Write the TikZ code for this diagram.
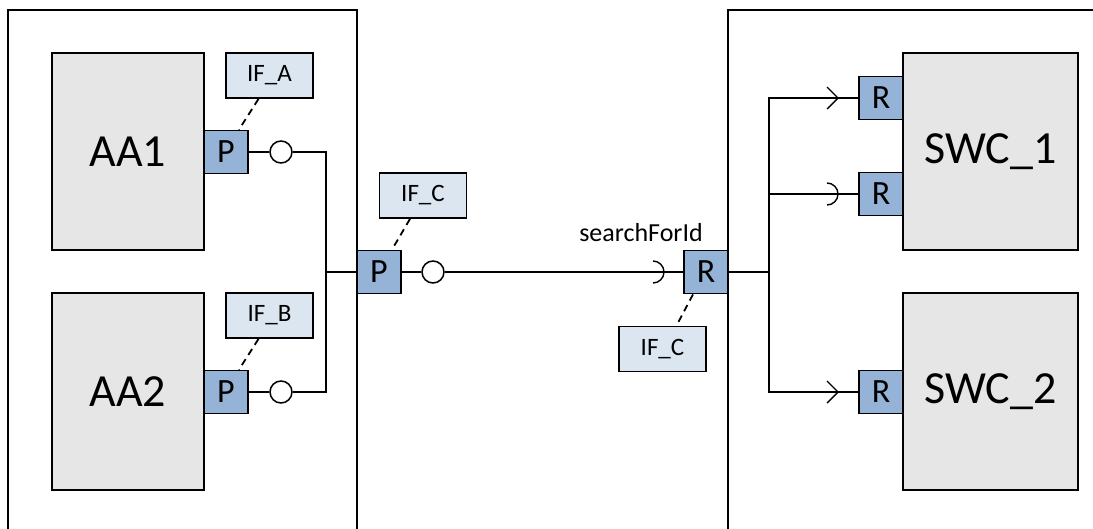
\documentclass[tikz,border=0pt]{standalone}
\usepackage{fontspec}
\setmainfont{Carlito}
\definecolor{compgray}{HTML}{E6E6E6}
\definecolor{portblue}{HTML}{95B3D7}
\definecolor{iflight}{HTML}{DCE6F1}
\begin{document}
\begin{tikzpicture}[x=1pt,y=-1pt,
  outerbox/.style={line width=1.6pt},
  comp/.style={draw, line width=1.8pt, fill=compgray, inner sep=0pt, font=\fontsize{46}{50}\selectfont},
  portbox/.style={draw, line width=1.8pt, fill=portblue, inner sep=0pt, minimum width=44pt, minimum height=43pt, font=\fontsize{34}{38}\selectfont},
  iface/.style={draw, line width=1.8pt, fill=iflight, inner sep=0pt, minimum width=87pt, minimum height=45pt, font=\fontsize{25}{28}\selectfont},
  lolli/.style={draw, circle, line width=1.5pt, fill=white, inner sep=0pt, minimum size=22pt},
  conn/.style={line width=1.4pt},
  dashc/.style={line width=1.8pt, dash pattern=on 7pt off 5pt},
  lbl/.style={inner sep=0pt, font=\fontsize{26}{30}\selectfont}
]
\useasboundingbox (0,0) rectangle (1093,528);
\clip (0,0) rectangle (1093,528);
\fill[white] (0,0) rectangle (1093,528);

% outer boxes
\draw[outerbox] (8,540) -- (8,10) -- (357,10) -- (357,540);
\draw[outerbox] (728,540) -- (728,10) -- (1100,10);

% components
\node[comp, minimum width=152pt, minimum height=197pt] (aa1) at (128,151.5) {AA1};
\node[comp, minimum width=152pt, minimum height=197pt] (aa2) at (128,391.5) {AA2};
\node[comp, minimum width=175pt, minimum height=197pt] (swc1) at (990.5,151.5) {SWC\_1};
\node[comp, minimum width=175pt, minimum height=197pt] (swc2) at (990.5,391.5) {SWC\_2};

% ports
\node[portbox] (pa1) at (226,152) {P};
\node[portbox] (pa2) at (226,392) {P};
\node[portbox] (pm) at (379,272) {P};
\node[portbox] (rm) at (706,272) {R};
\node[portbox] (rs1) at (881,98) {R};
\node[portbox] (rs2) at (881,194) {R};
\node[portbox] (rs3) at (881,392) {R};

% interfaces
\node[iface] (ifa) at (269.5,75.5) {IF\_A};
\node[iface] (ifb) at (269.5,315.5) {IF\_B};
\node[iface] (ifc1) at (423,195.5) {IF\_C};
\node[iface] (ifc2) at (662.5,349) {IF\_C};

\draw[dashc] ([xshift=-11pt]ifa.south) -- ([xshift=13pt]pa1.north);
\draw[dashc] ([xshift=-11pt]ifb.south) -- ([xshift=13pt]pa2.north);
\draw[dashc] ([xshift=-13pt]ifc1.south) -- ([xshift=13pt]pm.north);
\draw[dashc] ([xshift=-13pt]rm.south) -- ([xshift=14pt]ifc2.north);

% lollipops
\node[lolli] (c1) at (281,152) {};
\node[lolli] (c2) at (281,392) {};
\node[lolli] (cm) at (433,272) {};

\coordinate (j1) at (326,272);
\coordinate (j2) at (769,272);

\draw[conn] (pa1.east) -- (c1.west);
\draw[conn] (pa2.east) -- (c2.west);
\draw[conn] (pm.east) -- (cm.west);
\draw[conn] (c1.east) -| (j1);
\draw[conn] (c2.east) -| (j1);
\draw[conn] (j1) -- (pm.west);

% main connector with socket
\coordinate (sm) at (663,272);
\draw[conn] (cm.east) -- (sm) -- (rm.west);
\draw[conn] (653,261) arc[start angle=-90, end angle=90, radius=11];
\node[lbl, anchor=base] (sfi) at (641,241) {searchForId};

% right side distribution
\coordinate (s1) at (838,98);
\coordinate (s2) at (838,194);
\coordinate (s3) at (838,392);
\draw[conn] (rm.east) -- (j2);
\draw[conn] (j2) |- (s1) -- (rs1.west);
\draw[conn] (j2) |- (s2) -- (rs2.west);
\draw[conn] (j2) |- (s3) -- (rs3.west);
\draw[conn] (827,87) -- (s1) -- (827,109);
\draw[conn] (827,183) arc[start angle=-90, end angle=90, radius=11];
\draw[conn] (827,381) -- (s3) -- (827,403);
\end{tikzpicture}
\end{document}
